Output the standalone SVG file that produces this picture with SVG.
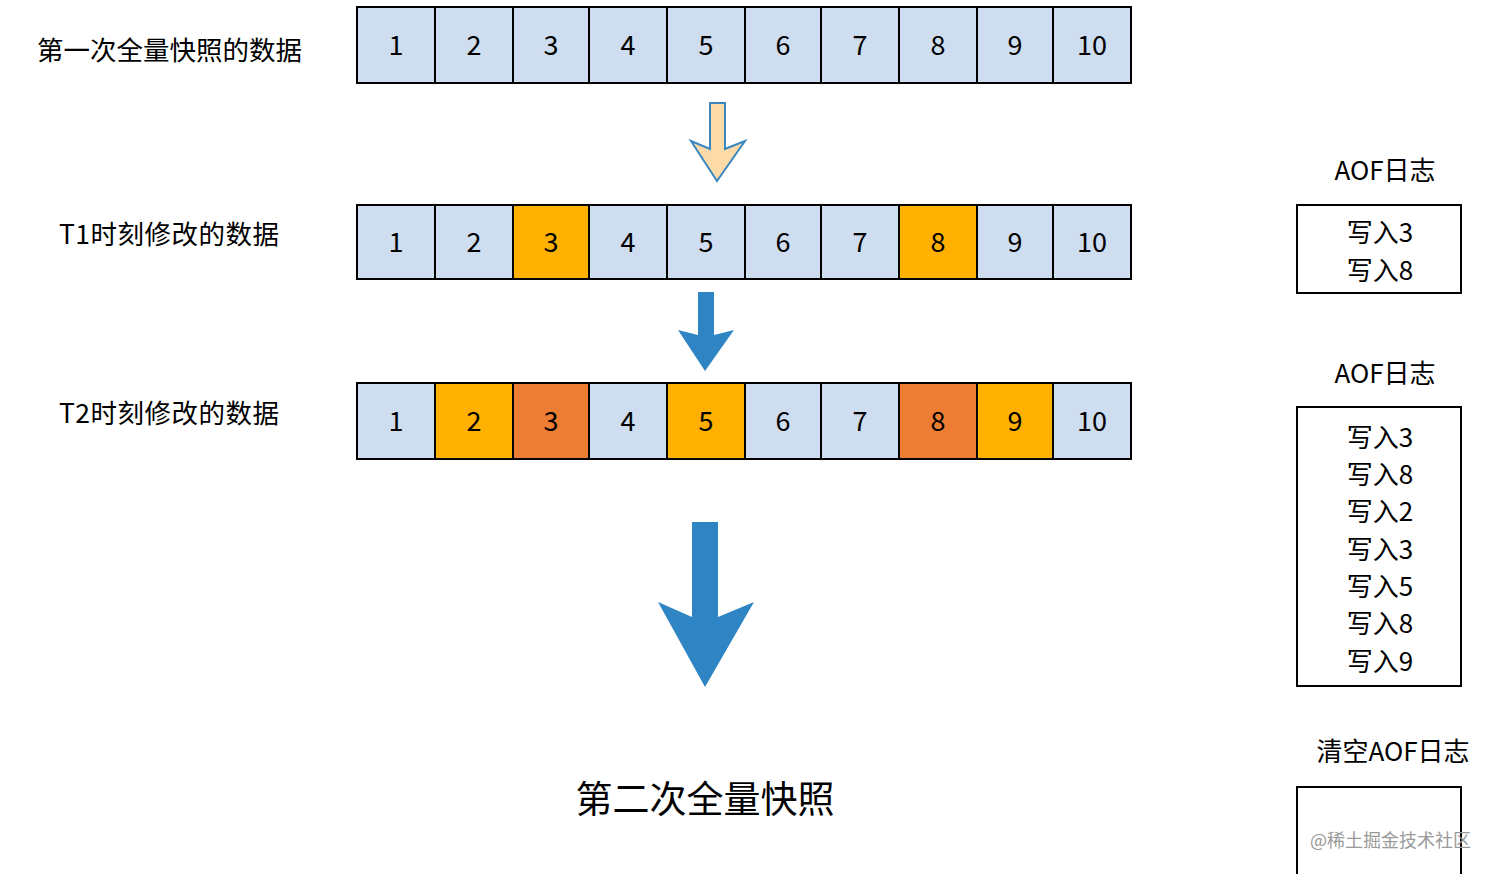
<svg xmlns="http://www.w3.org/2000/svg" width="1494" height="874" viewBox="0 0 1494 874">
<style>
  text { font-family: "Noto Sans CJK SC", "Noto Sans", sans-serif; fill: #000; }
  .lbl { font-size: 26.5px; dominant-baseline: central; }
  .num { font-size: 27px; text-anchor: middle; dominant-baseline: central; }
  .aof { font-size: 26px; text-anchor: middle; dominant-baseline: central; }
  .cell { stroke: #000; stroke-width: 2; }
  .b { fill: #CEDDEF; }
  .o { fill: #FFB000; }
  .r { fill: #ED7D32; }
  .box { fill: #fff; stroke: #000; stroke-width: 2; }
  .wm { font-size: 18px; fill: #9a9a9a; dominant-baseline: central; }
</style>
<rect width="1494" height="874" fill="#fff"/>

<g id="label-row1"><text class="lbl" x="37" y="48" textLength="265">第一次全量快照的数据</text></g>
<g id="label-row2"><text class="lbl" x="59" y="232" textLength="220">T1时刻修改的数据</text></g>
<g id="label-row3"><text class="lbl" x="59" y="411" textLength="220">T2时刻修改的数据</text></g>

<g id="row1">
  <rect class="cell b" x="357" y="7" width="78" height="76"/>
  <rect class="cell b" x="435" y="7" width="78" height="76"/>
  <rect class="cell b" x="513" y="7" width="76" height="76"/>
  <rect class="cell b" x="589" y="7" width="78" height="76"/>
  <rect class="cell b" x="667" y="7" width="78" height="76"/>
  <rect class="cell b" x="745" y="7" width="76" height="76"/>
  <rect class="cell b" x="821" y="7" width="78" height="76"/>
  <rect class="cell b" x="899" y="7" width="78" height="76"/>
  <rect class="cell b" x="977" y="7" width="76" height="76"/>
  <rect class="cell b" x="1053" y="7" width="78" height="76"/>
  <text class="num" x="396" y="43">1</text>
  <text class="num" x="474" y="43">2</text>
  <text class="num" x="551" y="43">3</text>
  <text class="num" x="628" y="43">4</text>
  <text class="num" x="706" y="43">5</text>
  <text class="num" x="783" y="43">6</text>
  <text class="num" x="860" y="43">7</text>
  <text class="num" x="938" y="43">8</text>
  <text class="num" x="1015" y="43">9</text>
  <text class="num" x="1092" y="43">10</text>
</g>

<g id="row2">
  <rect class="cell b" x="357" y="205" width="78" height="74"/>
  <rect class="cell b" x="435" y="205" width="78" height="74"/>
  <rect class="cell o" x="513" y="205" width="76" height="74"/>
  <rect class="cell b" x="589" y="205" width="78" height="74"/>
  <rect class="cell b" x="667" y="205" width="78" height="74"/>
  <rect class="cell b" x="745" y="205" width="76" height="74"/>
  <rect class="cell b" x="821" y="205" width="78" height="74"/>
  <rect class="cell o" x="899" y="205" width="78" height="74"/>
  <rect class="cell b" x="977" y="205" width="76" height="74"/>
  <rect class="cell b" x="1053" y="205" width="78" height="74"/>
  <text class="num" x="396" y="240">1</text>
  <text class="num" x="474" y="240">2</text>
  <text class="num" x="551" y="240">3</text>
  <text class="num" x="628" y="240">4</text>
  <text class="num" x="706" y="240">5</text>
  <text class="num" x="783" y="240">6</text>
  <text class="num" x="860" y="240">7</text>
  <text class="num" x="938" y="240">8</text>
  <text class="num" x="1015" y="240">9</text>
  <text class="num" x="1092" y="240">10</text>
</g>

<g id="row3">
  <rect class="cell b" x="357" y="383" width="78" height="76"/>
  <rect class="cell o" x="435" y="383" width="78" height="76"/>
  <rect class="cell r" x="513" y="383" width="76" height="76"/>
  <rect class="cell b" x="589" y="383" width="78" height="76"/>
  <rect class="cell o" x="667" y="383" width="78" height="76"/>
  <rect class="cell b" x="745" y="383" width="76" height="76"/>
  <rect class="cell b" x="821" y="383" width="78" height="76"/>
  <rect class="cell r" x="899" y="383" width="78" height="76"/>
  <rect class="cell o" x="977" y="383" width="76" height="76"/>
  <rect class="cell b" x="1053" y="383" width="78" height="76"/>
  <text class="num" x="396" y="419">1</text>
  <text class="num" x="474" y="419">2</text>
  <text class="num" x="551" y="419">3</text>
  <text class="num" x="628" y="419">4</text>
  <text class="num" x="706" y="419">5</text>
  <text class="num" x="783" y="419">6</text>
  <text class="num" x="860" y="419">7</text>
  <text class="num" x="938" y="419">8</text>
  <text class="num" x="1015" y="419">9</text>
  <text class="num" x="1092" y="419">10</text>
</g>

<g id="connectors">
  <path id="arrow1" d="M710,103 L725,103 L725,149 L745,141 L717,181 L691,141 L710,149 Z" fill="#FDDBA8" stroke="#3A87C0" stroke-width="2" stroke-linejoin="miter"/>
  <path id="arrow2" d="M698,292 L714,292 L714,335 L734,330 L705,371 L678,330 L698,335 Z" fill="#2F85C4"/>
  <path id="arrow3" d="M692,522 L718,522 L718,617 L754,602 L705,687 L658,602 L692,617 Z" fill="#2F85C4"/>
</g>

<g id="final-label"><text x="705" y="797" font-size="37" text-anchor="middle" dominant-baseline="central">第二次全量快照</text></g>

<g id="aof1">
  <text class="aof" x="1385" y="168">AOF日志</text>
  <rect class="box" x="1297" y="205" width="164" height="88"/>
  <text class="aof" x="1380" y="230">写入3</text>
  <text class="aof" x="1380" y="268">写入8</text>
</g>

<g id="aof2">
  <text class="aof" x="1385" y="371">AOF日志</text>
  <rect class="box" x="1297" y="407" width="164" height="279"/>
  <text class="aof" x="1380" y="435">写入3</text>
  <text class="aof" x="1380" y="472.5">写入8</text>
  <text class="aof" x="1380" y="509.5">写入2</text>
  <text class="aof" x="1380" y="547">写入3</text>
  <text class="aof" x="1380" y="584.5">写入5</text>
  <text class="aof" x="1380" y="621.5">写入8</text>
  <text class="aof" x="1380" y="659">写入9</text>
</g>

<g id="aof3">
  <text class="aof" x="1393" y="749">清空AOF日志</text>
  <rect class="box" x="1297" y="787" width="164" height="100"/>
</g>

<text class="wm" x="1310" y="839">@稀土掘金技术社区</text>
</svg>
